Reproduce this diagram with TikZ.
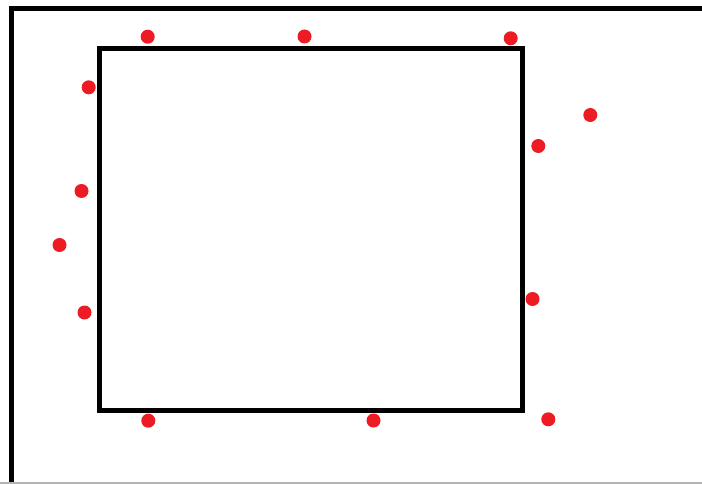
\documentclass[tikz,border=0pt]{standalone}
\usepackage{tikz}
\usetikzlibrary{positioning}
\definecolor{dotred}{RGB}{237,28,36}
\definecolor{edgegray}{RGB}{180,180,180}
\tikzset{>=latex}
\tikzset{reddot/.style={circle, fill=dotred, inner sep=0pt, minimum size=14pt}}
\tikzset{thickline/.style={line width=5pt, black}}

\begin{document}
\begin{tikzpicture}[x=1pt, y=-1pt]
          \useasboundingbox (0,0) rectangle (702,484);
          % outer frame
          \draw[thickline] (11.5,484) -- (11.5,8.5) -- (702,8.5);
          \draw[edgegray, line width=1.5pt] (0,483) -- (702,483);
          % inner square
          \draw[thickline] (99.5,48.5) rectangle (522.5,410.5);
          % dots
          \node[reddot] (t1) at (147.7,36.7) {};
          \node[reddot] (t2) at (304.5,36.5) {};
          \node[reddot] (t3) at (510.7,38.3) {};
          \node[reddot] (l1) at (88.7,87.3) {};
          \node[reddot] (l2) at (81.5,191) {};
          \node[reddot] (l3) at (59.5,245) {};
          \node[reddot] (l4) at (84.5,312.5) {};
          \node[reddot] (r1) at (590.3,115) {};
          \node[reddot] (r2) at (538.3,146) {};
          \node[reddot] (r3) at (532.5,299) {};
          \node[reddot] (b1) at (148.3,420.7) {};
          \node[reddot] (b2) at (373.5,420.5) {};
          \node[reddot] (b3) at (548.3,419.3) {};
        \end{tikzpicture}
\end{document}
